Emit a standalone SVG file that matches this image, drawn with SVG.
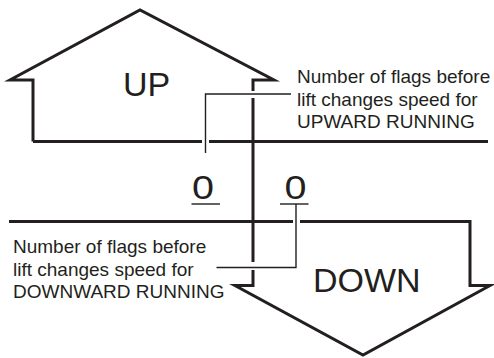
<svg xmlns="http://www.w3.org/2000/svg" width="494" height="358" viewBox="0 0 494 358">
<style>
.thick{fill:none;stroke:#231f20;stroke-width:3;stroke-linejoin:miter;stroke-miterlimit:10}
.thin{fill:none;stroke:#231f20;stroke-width:1.4}
.big{font-family:"Liberation Sans",Arial,sans-serif;font-size:34px;fill:#231f20}
.num{font-family:"Liberation Sans",Arial,sans-serif;font-size:33px;fill:#231f20;text-anchor:middle}
.lab{font-family:"Liberation Sans",Arial,sans-serif;font-size:19px;fill:#231f20}
</style>
<rect width="494" height="358" fill="#fff"/>
<g id="up">
<path class="thick" d="M33,141.5 V80 H10 L140,10 L274,80 H253 V91"/>
<text class="big" x="123" y="96">UP</text>
</g>
<g id="down">
<path class="thick" d="M253,98 V262 M253,270 V285.5 H235 L363,355 L490,285.5 H470 V221.5 H300 M293,221.5 H9"/>
<text class="big" x="313" y="292">DOWN</text>
</g>
<g id="divider">
<path class="thick" d="M33,141.5 H202 M209,141.5 H488"/>
</g>
<g id="zero-up">
<text class="num" x="203" y="199" textLength="22" lengthAdjust="spacingAndGlyphs">0</text>
<path class="thin" d="M191.5,204 H220"/>
</g>
<g id="zero-down">
<text class="num" x="295.5" y="199" textLength="22" lengthAdjust="spacingAndGlyphs">0</text>
<path class="thin" d="M280,204 H308.5"/>
</g>
<g id="label-up">
<text class="lab" x="297" y="83">Number of flags before</text>
<text class="lab" x="297" y="105.5">lift changes speed for</text>
<text class="lab" x="297" y="128">UPWARD RUNNING</text>
</g>
<g id="label-down">
<text class="lab" x="13" y="253">Number of flags before</text>
<text class="lab" x="13" y="275.5">lift changes speed for</text>
<text class="lab" x="13" y="298">DOWNWARD RUNNING</text>
</g>
<g id="connectors">
<path class="thin" d="M291,94 H205.5 V153"/>
<path class="thin" d="M216.5,267.5 H296 V204"/>
</g>
</svg>
